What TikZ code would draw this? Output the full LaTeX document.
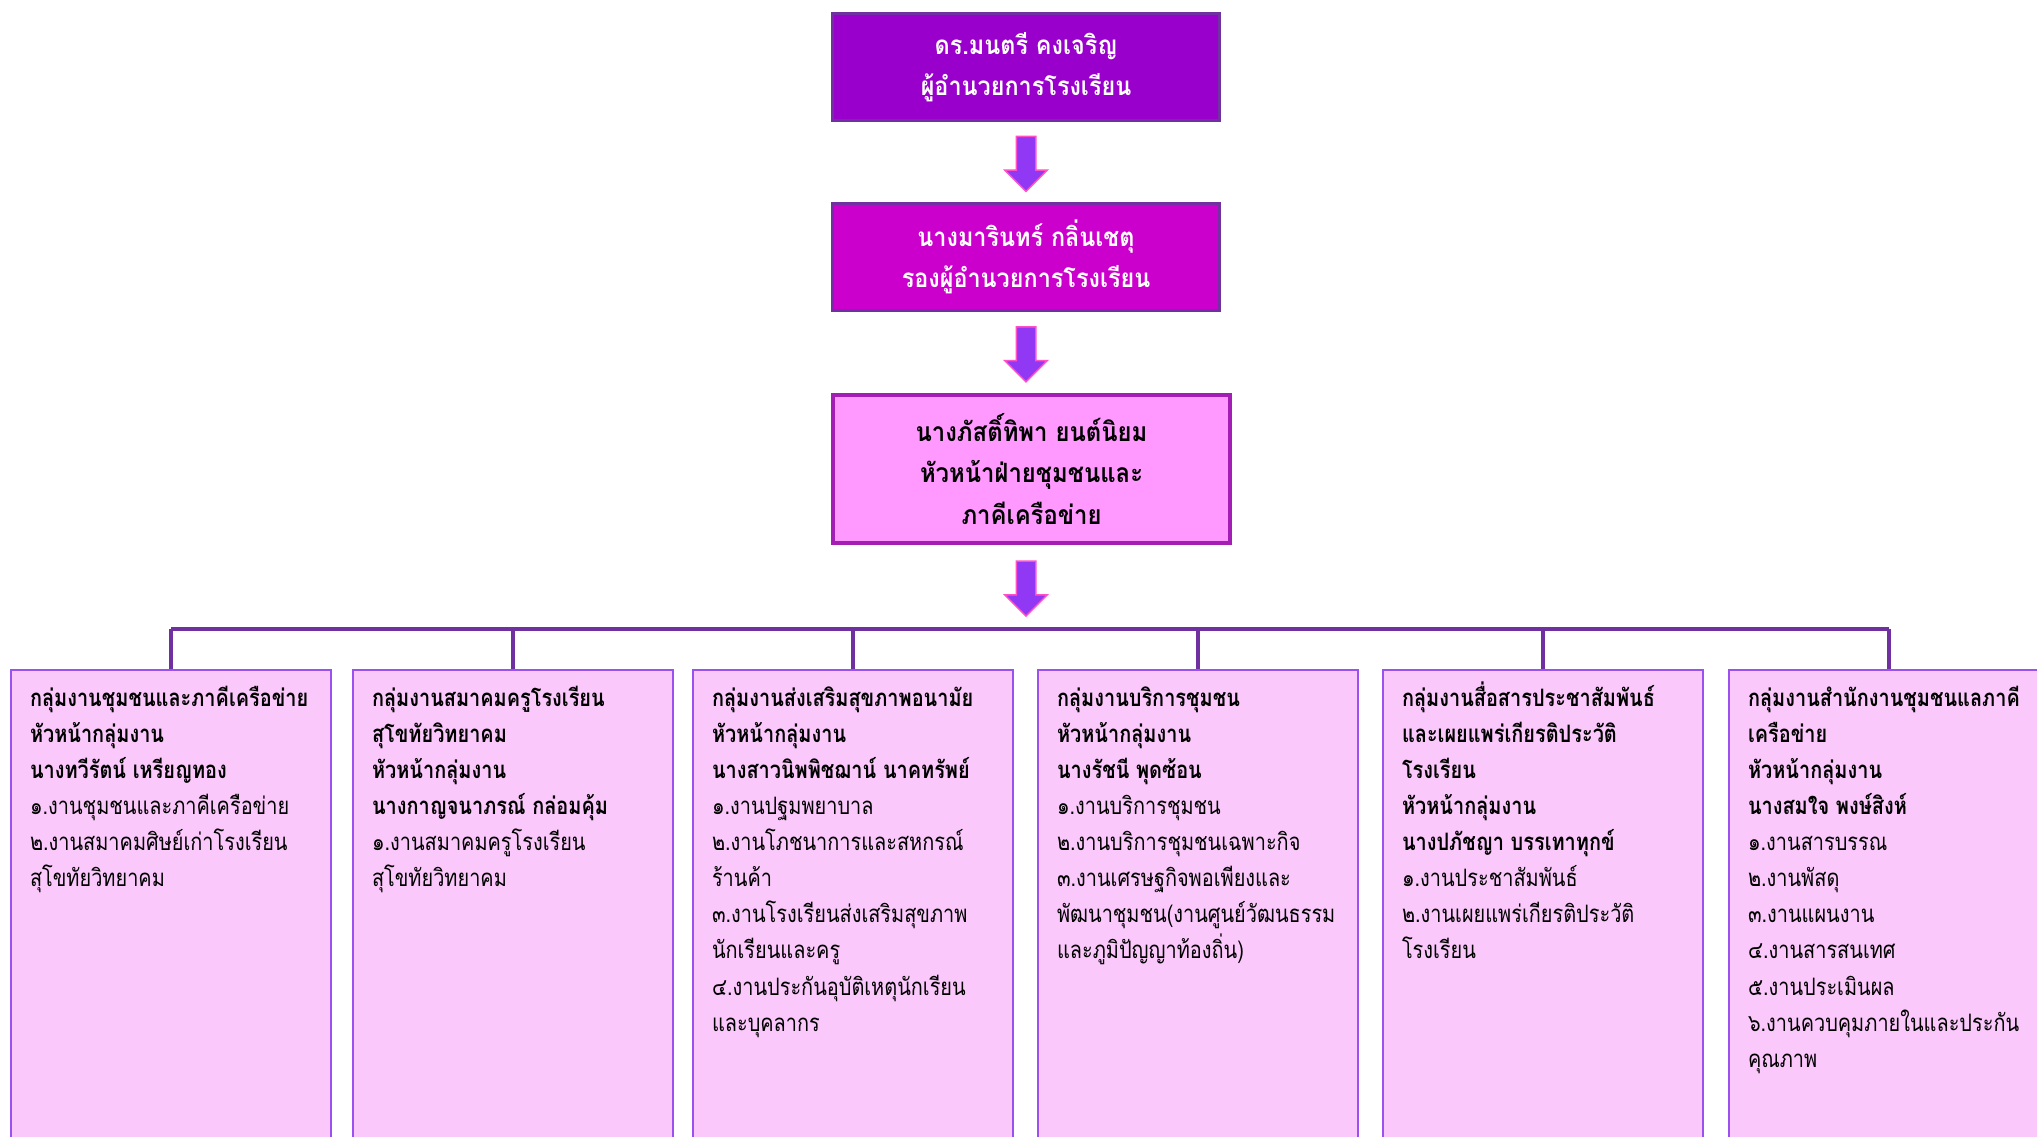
\documentclass[tikz,border=0pt]{standalone}
\usepackage{fontspec}
\newfontfamily\thaifont[Script=Thai,FakeStretch=0.9]{Loma}
\newfontfamily\thaigrp[Script=Thai,FakeStretch=0.83]{Loma}
\usetikzlibrary{positioning,calc,shapes.arrows}

\definecolor{headviolet}{RGB}{153,0,204}
\definecolor{deputymag}{RGB}{204,0,204}
\definecolor{chiefpink}{RGB}{255,153,255}
\definecolor{chiefedge}{RGB}{163,30,181}
\definecolor{lineviolet}{RGB}{112,48,160}
\definecolor{arrfill}{RGB}{145,56,245}
\definecolor{arredge}{RGB}{255,80,200}
\definecolor{grpfill}{RGB}{251,200,251}
\definecolor{grpedge}{RGB}{155,80,240}

% bold heading lines, then the plain work items
\newcommand{\grptext}[2]{\parbox[t][470pt][t]{282pt}{\raggedright\strut\bfseries #1\\\mdseries #2}}

\begin{document}
\begin{tikzpicture}[x=1pt,y=-1pt,
topbox/.style={draw=lineviolet, line width=3pt, minimum width=387pt, minimum height=107pt,
  text=white, align=center, font=\thaifont\bfseries\fontsize{26}{41}\selectfont},
chiefbox/.style={draw=chiefedge, fill=chiefpink, line width=3.5pt, minimum width=397pt,
  minimum height=148pt, align=center, font=\thaifont\bfseries\fontsize{26.5}{41.5}\selectfont},
blockarr/.style={single arrow, draw=arredge, fill=arrfill, line width=1.5pt, yshift=3pt,
  shape border rotate=270, inner sep=9pt, minimum height=55pt, single arrow head extend=11.5pt},
busline/.style={draw=lineviolet, line width=4pt},
grp/.style={draw=grpedge, fill=grpfill, line width=2pt, anchor=north west,
  inner xsep=19pt, inner ysep=11pt, font=\thaigrp\fontsize{24}{36.1}\selectfont}]

\useasboundingbox (0,0) rectangle (2037,1136);
\clip (0,0) rectangle (2037,1136);

\def\gtop{669}

\node[topbox, fill=headviolet] (b1) at (1026,67) {ดร.มนตรี คงเจริญ\\ผู้อำนวยการโรงเรียน};
\node[topbox, fill=deputymag, below=80pt of b1] (b2) {นางมารินทร์ กลิ่นเชตุ\\รองผู้อำนวยการโรงเรียน};
\node[chiefbox, below=81pt of b2, xshift=5.5pt] (b3) {นางภัสติ์ทิพา ยนต์นิยม\\หัวหน้าฝ่ายชุมชนและ\\ภาคีเครือข่าย};

\coordinate (bus) at (0,629);

\node[blockarr] (a1) at ($(b1.south)!.5!(b2.north)$) {};
\node[blockarr] (a2) at ($(b2.south)!.5!(b1.south |- b3.north)$) {};
\node[blockarr] (a3) at ($(b1.south |- b3.south)!.5!(b1.south |- bus)$) {};

% groups
\node[grp] (g1) at (10,\gtop) {\grptext{กลุ่มงานชุมชนและภาคีเครือข่าย\\หัวหน้ากลุ่มงาน\\นางทวีรัตน์~เหรียญทอง}
  {๑.งานชุมชนและภาคีเครือข่าย\\๒.งานสมาคมศิษย์เก่าโรงเรียน\\สุโขทัยวิทยาคม}};
\node[grp] (g2) at (352,\gtop) {\grptext{กลุ่มงานสมาคมครูโรงเรียน\\สุโขทัยวิทยาคม\\หัวหน้ากลุ่มงาน\\นางกาญจนาภรณ์~กล่อมคุ้ม}
  {๑.งานสมาคมครูโรงเรียน\\สุโขทัยวิทยาคม}};
\node[grp] (g3) at (692,\gtop) {\grptext{กลุ่มงานส่งเสริมสุขภาพอนามัย\\หัวหน้ากลุ่มงาน\\นางสาวนิพพิชฌาน์~นาคทรัพย์}
  {๑.งานปฐมพยาบาล\\๒.งานโภชนาการและสหกรณ์\\ร้านค้า\\๓.งานโรงเรียนส่งเสริมสุขภาพ\\นักเรียนและครู\\๔.งานประกันอุบัติเหตุนักเรียน\\และบุคลากร}};
\node[grp] (g4) at (1037,\gtop) {\grptext{กลุ่มงานบริการชุมชน\\หัวหน้ากลุ่มงาน\\นางรัชนี~พุดซ้อน}
  {๑.งานบริการชุมชน\\๒.งานบริการชุมชนเฉพาะกิจ\\๓.งานเศรษฐกิจพอเพียงและ\\พัฒนาชุมชน(งานศูนย์วัฒนธรรม\\และภูมิปัญญาท้องถิ่น)}};
\node[grp] (g5) at (1382,\gtop) {\grptext{กลุ่มงานสื่อสารประชาสัมพันธ์\\และเผยแพร่เกียรติประวัติ\\โรงเรียน\\หัวหน้ากลุ่มงาน\\นางปภัชญา~บรรเทาทุกข์}
  {๑.งานประชาสัมพันธ์\\๒.งานเผยแพร่เกียรติประวัติ\\โรงเรียน}};
\node[grp] (g6) at (1728,\gtop) {\grptext{กลุ่มงานสำนักงานชุมชนแลภาคี\\เครือข่าย\\หัวหน้ากลุ่มงาน\\นางสมใจ~พงษ์สิงห์}
  {๑.งานสารบรรณ\\๒.งานพัสดุ\\๓.งานแผนงาน\\๔.งานสารสนเทศ\\๕.งานประเมินผล\\๖.งานควบคุมภายในและประกัน\\คุณภาพ}};

\draw[busline] (g1.north |- bus) -- (g6.north |- bus);
\foreach \g in {g1,g2,g3,g4,g5,g6}
  \draw[busline] (\g.north |- bus) -- (\g.north);

\end{tikzpicture}
\end{document}
